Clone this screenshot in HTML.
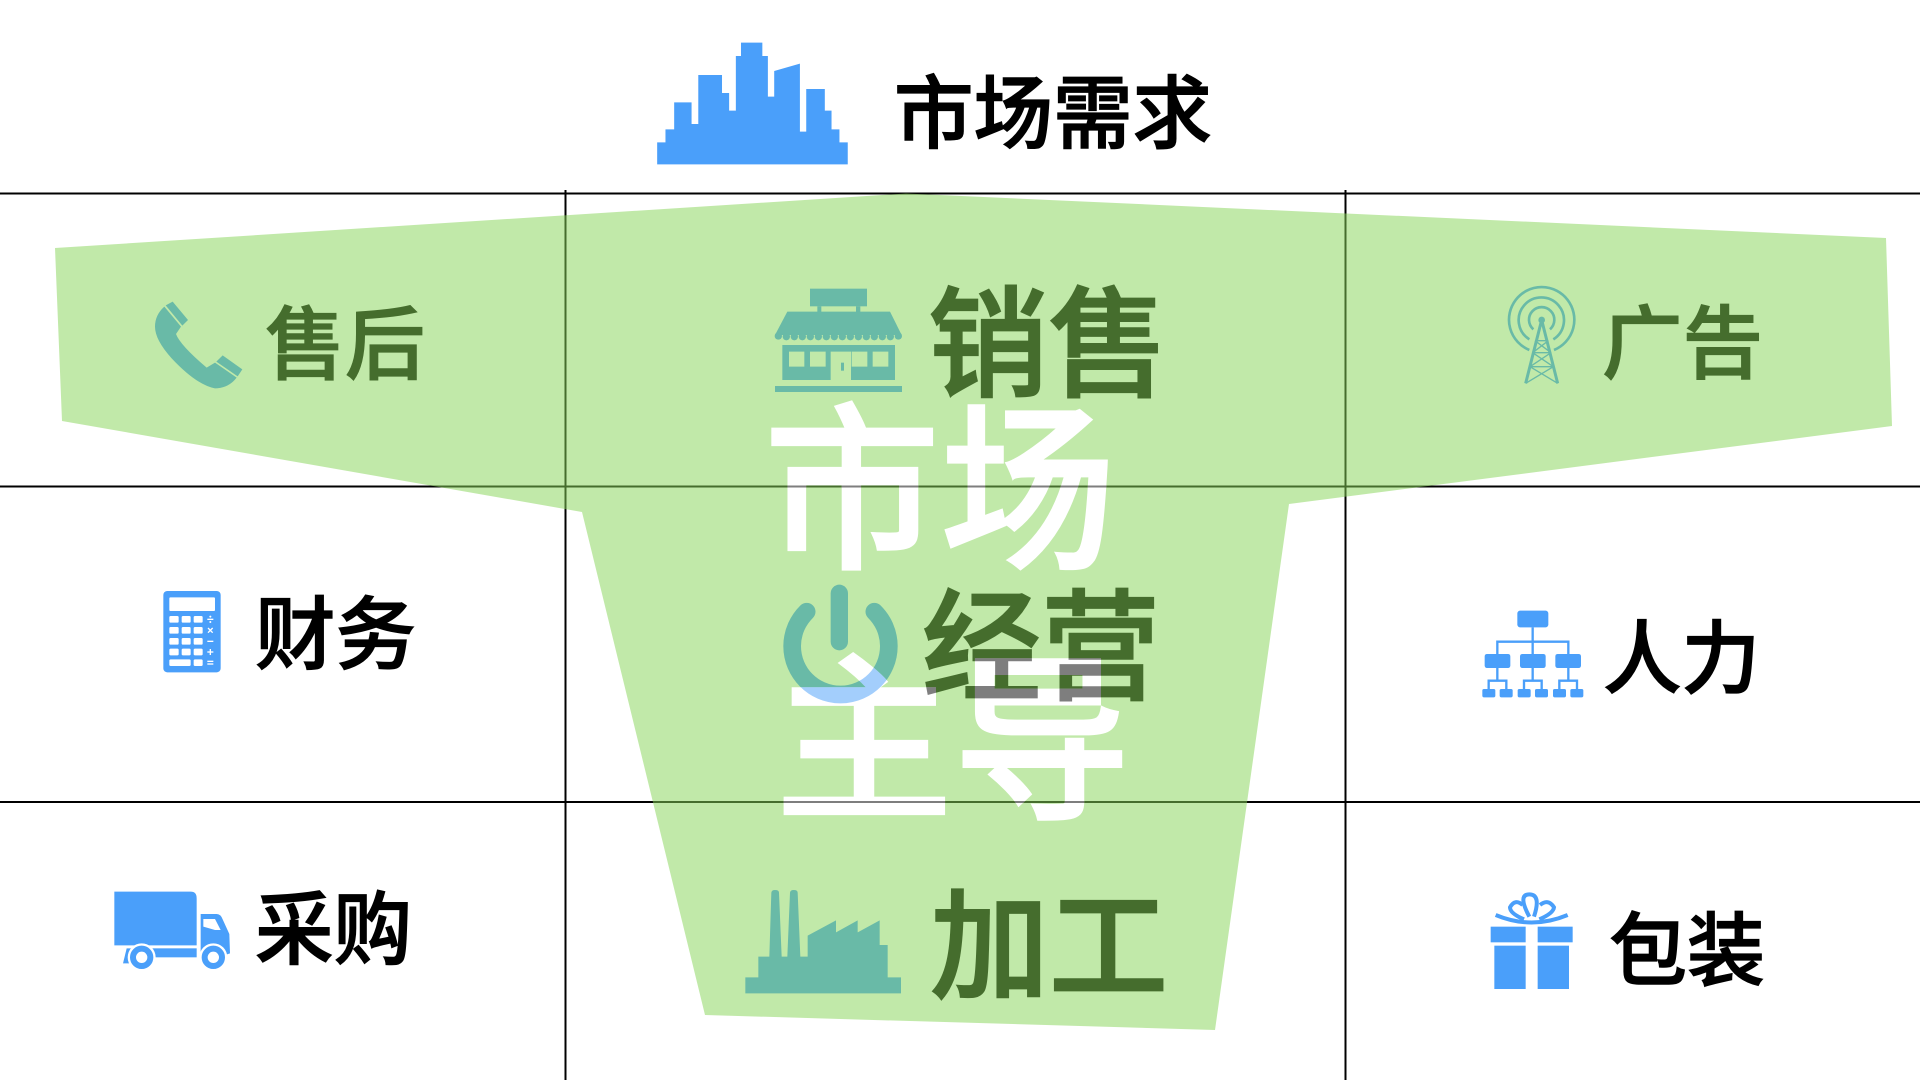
<!DOCTYPE html>
<html lang="zh">
<head>
<meta charset="utf-8">
<title>市场主导</title>
<style>
html,body{margin:0;padding:0;background:#fff;width:1920px;height:1080px;overflow:hidden}
svg{display:block}
text{font-family:"Liberation Sans","Noto Sans CJK SC",sans-serif}
.b{font-weight:500;fill:#000;stroke:#000;stroke-width:1.2px}
.l{font-weight:500;fill:#000;stroke:#000;stroke-width:1.8px}
.w{font-weight:500;fill:#fff;stroke:#fff;stroke-width:2px}
</style>
</head>
<body>
<svg width="1920" height="1080" viewBox="0 0 1920 1080" xmlns="http://www.w3.org/2000/svg">
<defs>
  <mask id="wm" maskUnits="userSpaceOnUse" x="0" y="0" width="1920" height="1080">
    <text class="w" x="764" y="555" font-size="180" textLength="352" lengthAdjust="spacingAndGlyphs">市场</text>
    <text class="w" x="775" y="805" font-size="180" textLength="356" lengthAdjust="spacingAndGlyphs">主导</text>
  </mask>
  <g id="lines" stroke="#000" stroke-width="2" fill="none">
    <path d="M0 193.5H1920M0 486.5H1920M0 802H1920M565.5 190V1080M1345.5 190V1080"/>
  </g>
  <g id="power" transform="translate(740,560) scale(.33333)" fill="none" stroke="#4a9ffa" stroke-linecap="round">
    <path d="M200,155 A145,145 0 1 0 403,155" stroke-width="53"/>
    <path d="M298,100 V245" stroke-width="52"/>
  </g>
</defs>

<use href="#lines"/>

<!-- city -->
<g transform="translate(620,20) scale(.3954,.33333)" fill="#4a9ffa">
  <polygon points="94,433 94,367 115,367 115,328 137,328 137,247 181,247 181,312 198,312 198,165 258,165 258,219 276,219 276,272 293,272 293,108 306,108 306,68 360,68 360,108 374,108 374,230 390,230 390,153 455,131 455,335 471,335 471,207 518,207 518,272 535,272 535,328 555,328 555,367 576,367 576,433"/>
</g>

<!-- shop -->
<g transform="translate(700,260) scale(.33333)" fill="#4a9ffa">
  <rect x="330" y="86" width="171" height="53"/>
  <rect x="352" y="139" width="12" height="18"/>
  <rect x="468" y="139" width="13" height="18"/>
  <polygon points="262,155 570,155 605,225 225,225"/>
  <g>
    <circle cx="235" cy="228" r="11"/><circle cx="259" cy="230" r="11"/><circle cx="283" cy="230" r="11"/><circle cx="307" cy="230" r="11"/><circle cx="331" cy="230" r="11"/><circle cx="355" cy="230" r="11"/><circle cx="379" cy="230" r="11"/><circle cx="403" cy="230" r="11"/><circle cx="427" cy="230" r="11"/><circle cx="451" cy="230" r="11"/><circle cx="475" cy="230" r="11"/><circle cx="499" cy="230" r="11"/><circle cx="523" cy="230" r="11"/><circle cx="547" cy="230" r="11"/><circle cx="571" cy="230" r="11"/><circle cx="595" cy="228" r="11"/>
  </g>
  <path fill-rule="evenodd" d="M247,255H585V360H247Z M267,275V320H313V275Z M330,275V320H377V275Z M455,275V320H502V275Z M518,275V320H565V275Z M392,275V360H453V275Z"/>
  <rect x="423" y="308" width="9" height="24"/>
  <rect x="225" y="378" width="381" height="18"/>
</g>

<!-- phone -->
<g transform="translate(100,270) scale(.33333)" fill="#4a9ffa">
  <path d="M193,110 L243,170 L228,192 Q240,225 320,293 L345,278 L410,323 Q385,355 345,355 Q290,345 215,265 Q165,210 165,170 Q165,135 193,110 Z"/>
  <polygon points="197,106 218,95 264,150 247,167"/>
  <polygon points="349,275 368,256 427,298 413,319"/>
</g>

<!-- tower -->
<g transform="translate(1470,270) scale(.33333)" fill="none" stroke="#4a9ffa">
  <path d="M178,240 A98,98 0 1 1 252,240" stroke-width="8"/>
  <path d="M178,208 A68,68 0 1 1 250,208" stroke-width="8"/>
  <path d="M190,178 A38,38 0 1 1 240,178" stroke-width="8"/>
  <path d="M215,150 L167,340 M215,150 L263,340" stroke-width="9"/>
  <path d="M195,212 H235 M188,248 H243 M180,290 H250 M195,212 L243,248 M235,212 L188,248 M188,248 L250,290 M243,248 L180,290 M180,290 L263,340 M250,290 L167,340" stroke-width="4"/>
  <circle cx="215" cy="150" r="10" fill="#4a9ffa" stroke="none"/>
</g>

<!-- calculator -->
<g transform="translate(100,570) scale(.33333)">
  <rect x="190" y="63" width="172" height="244" rx="12" fill="#4a9ffa"/>
  <g fill="#fff">
    <rect x="208" y="82" width="137" height="41" rx="3"/>
    <rect x="208" y="138" width="28" height="20" rx="4"/><rect x="245" y="138" width="27" height="20" rx="4"/><rect x="281" y="138" width="27" height="20" rx="4"/>
    <rect x="208" y="171" width="28" height="20" rx="4"/><rect x="245" y="171" width="27" height="20" rx="4"/><rect x="281" y="171" width="27" height="20" rx="4"/>
    <rect x="208" y="204" width="28" height="20" rx="4"/><rect x="245" y="204" width="27" height="20" rx="4"/><rect x="281" y="204" width="27" height="20" rx="4"/>
    <rect x="208" y="236" width="28" height="20" rx="4"/><rect x="245" y="236" width="27" height="20" rx="4"/><rect x="281" y="236" width="27" height="20" rx="4"/>
    <rect x="208" y="268" width="64" height="20" rx="4"/><rect x="281" y="268" width="27" height="20" rx="4"/>
    <rect x="322" y="146" width="18" height="4"/><circle cx="331" cy="140" r="3"/><circle cx="331" cy="156" r="3"/>
    <path d="M324,174 L338,188 M338,174 L324,188" stroke="#fff" stroke-width="4"/>
    <rect x="322" y="212" width="18" height="4"/>
    <rect x="322" y="244" width="18" height="4"/><rect x="329" y="237" width="4" height="18"/>
    <rect x="322" y="272" width="18" height="4"/><rect x="322" y="280" width="18" height="4"/>
  </g>
</g>

<!-- org chart -->
<g transform="translate(1460,590) scale(.33333)">
  <g fill="none" stroke="#4a9ffa" stroke-width="7">
    <path d="M218,112V192M112,192V155H325V192"/>
    <path d="M112,234V272M86,297V272H139V297M218,234V272M192,297V272H245V297M325,234V272M298,297V272H351V297"/>
  </g>
  <g fill="#4a9ffa">
    <rect x="172" y="62" width="93" height="50" rx="8"/>
    <rect x="74" y="192" width="77" height="42" rx="7"/><rect x="180" y="192" width="77" height="42" rx="7"/><rect x="286" y="192" width="77" height="42" rx="7"/>
    <rect x="67" y="297" width="39" height="25" rx="5"/><rect x="119" y="297" width="39" height="25" rx="5"/><rect x="173" y="297" width="39" height="25" rx="5"/><rect x="225" y="297" width="39" height="25" rx="5"/><rect x="279" y="297" width="39" height="25" rx="5"/><rect x="331" y="297" width="39" height="25" rx="5"/>
  </g>
</g>

<!-- truck -->
<g transform="translate(100,870) scale(.33333)" fill="#4a9ffa">
  <path d="M43,65H272Q290,65 290,85V226H43Z"/>
  <rect x="150" y="235" width="140" height="27"/>
  <polygon points="80,235 100,235 90,280 69,280"/>
  <path fill-rule="evenodd" d="M302,132H350Q362,132 368,148L388,192L390,250L372,256H302Z M310,147V170L345,180H362L345,147Z"/>
  <circle cx="125" cy="262" r="42" fill="#fff"/>
  <circle cx="340" cy="262" r="42" fill="#fff"/>
  <circle cx="125" cy="262" r="26" fill="none" stroke="#4a9ffa" stroke-width="18"/>
  <circle cx="340" cy="262" r="26" fill="none" stroke="#4a9ffa" stroke-width="18"/>
</g>

<!-- gift -->
<g transform="translate(1460,880) scale(.33333)" fill="#4a9ffa">
  <rect x="92" y="140" width="105" height="47"/><rect x="233" y="140" width="105" height="47"/>
  <rect x="103" y="197" width="94" height="130"/><rect x="233" y="197" width="94" height="130"/>
  <g fill="none" stroke="#4a9ffa" stroke-width="12">
    <path d="M107,105 Q215,150 323,105"/>
    <path d="M208,110 Q172,43 208,43 Q244,43 222,110"/>
    <path d="M192,118 Q150,100 150,82 Q165,55 188,75"/>
    <path d="M238,118 Q280,100 282,82 Q265,55 240,75"/>
  </g>
</g>

<!-- factory -->
<g transform="translate(730,870) scale(.33333)" fill="#4a9ffa">
  <path d="M46,370V322H85V260H118L124,68Q125,60 135,60Q147,60 147,68L155,260H172L180,68Q181,60 191,60Q203,60 203,68L211,260H233V197L318,151V187L383,151V187L449,151V225H473V322H513V370Z"/>
</g>

<!-- power icon -->
<use href="#power"/>

<!-- labels -->
<text class="b" x="894" y="142" font-size="80" textLength="318" lengthAdjust="spacingAndGlyphs">市场需求</text>
<text class="b" x="265" y="373" font-size="80" textLength="160" lengthAdjust="spacingAndGlyphs">售后</text>
<text class="b" x="1602" y="372" font-size="80" textLength="161" lengthAdjust="spacingAndGlyphs">广告</text>
<text class="l" x="928" y="387" font-size="120" textLength="240" lengthAdjust="spacingAndGlyphs">销售</text>
<text class="l" x="922" y="690" font-size="120" textLength="238" lengthAdjust="spacingAndGlyphs">经营</text>
<text class="l" x="930" y="989" font-size="120" textLength="238" lengthAdjust="spacingAndGlyphs">加工</text>
<text class="b" x="255" y="663" font-size="80" textLength="161" lengthAdjust="spacingAndGlyphs">财务</text>
<text class="b" x="255" y="958" font-size="80" textLength="157" lengthAdjust="spacingAndGlyphs">采购</text>
<text class="b" x="1603" y="687" font-size="80" textLength="157" lengthAdjust="spacingAndGlyphs">人力</text>
<text class="b" x="1609" y="979" font-size="80" textLength="156" lengthAdjust="spacingAndGlyphs">包装</text>

<!-- translucent green shape -->
<polygon points="55,248 906,193.5 1886,238 1892,426 1289,504 1215,1030 705,1015 582,512 62,421" fill="rgb(134,213,88)" fill-opacity=".515"/>

<!-- big white text -->
<text class="w" x="764" y="555" font-size="180" textLength="352" lengthAdjust="spacingAndGlyphs">市场</text>
<text class="w" x="775" y="805" font-size="180" textLength="356" lengthAdjust="spacingAndGlyphs">主导</text>

<!-- see-through where the white text crosses lower layers -->
<g mask="url(#wm)" opacity=".5">
  <use href="#lines"/>
  <use href="#power"/>
  <text class="l" x="922" y="690" font-size="120" textLength="238" lengthAdjust="spacingAndGlyphs">经营</text>
</g>
</svg>
</body>
</html>
